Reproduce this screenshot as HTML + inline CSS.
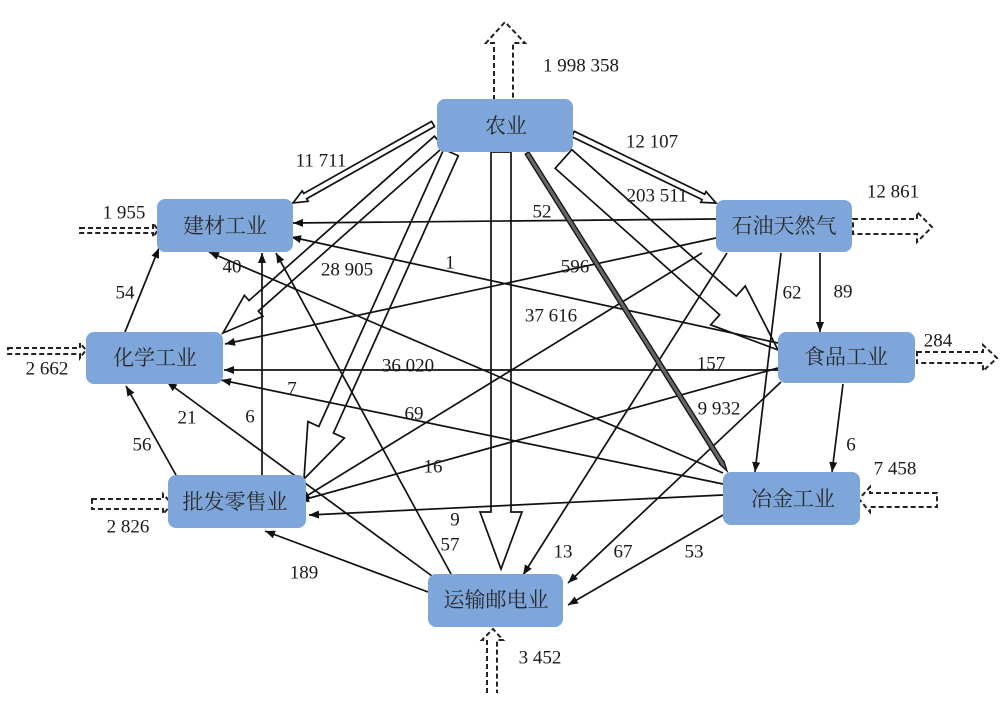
<!DOCTYPE html>
<html><head><meta charset="utf-8"><style>
html,body{margin:0;padding:0;background:#fff;}
svg{display:block;}
.n{font-family:"Liberation Serif","Noto Serif CJK SC",serif;font-size:19px;fill:#1a1a1a;text-anchor:middle;dominant-baseline:central;}
.c{font-family:"Liberation Serif","Noto Serif CJK SC","Noto Sans CJK SC",serif;font-size:21px;fill:#2a2a2a;text-anchor:middle;dominant-baseline:central;}
.l{stroke:#111;stroke-width:1.7;fill:none;marker-end:url(#ah);}
.h{stroke:#111;stroke-width:1.7;fill:none;}
.d{stroke:#222;stroke-width:2;fill:none;stroke-dasharray:5 3;}
.b{fill:#7ea6da;}
</style></head><body>
<svg width="1000" height="715" viewBox="0 0 1000 715" xmlns="http://www.w3.org/2000/svg">
<defs>
<marker id="ah" markerUnits="userSpaceOnUse" markerWidth="11" markerHeight="9" refX="10" refY="4" orient="auto">
<path d="M0,0 L10,4 L0,8 z" fill="#111"/>
</marker>
</defs>
<rect width="1000" height="715" fill="#fff"/>

<!-- dashed external arrows -->
<path class="d" d="M494,100 L494,43 L486,43 L505,22 L525,43 L513,43 L513,100"/>
<path class="d" d="M853,219 L917,219 L917,212 L932,227 L917,242 L917,234 L853,234 Z"/>
<path class="d" d="M917,352 L983,352 L983,345 L997,358 L983,371 L983,363 L917,363 Z"/>
<path class="d" d="M937,493 L870,493 L870,487 L859,499 L870,512 L870,507 L937,507 Z"/>
<path class="d" d="M487,693 L487,640 L482,640 L493,629 L503,640 L497,640 L497,693"/>
<path class="d" d="M92,499 L163,499 L163,494 L172,504 L163,514 L163,509 L92,509 Z"/>
<path class="d" d="M8,348 L80,348 L80,343 L86,350 L80,358 L80,354 L8,354 Z"/>
<path class="d" d="M80,228 L153,228 L153,223 L158,230 L153,237 L153,233 L80,233 Z"/>

<!-- thin arrows -->
<line class="l" x1="716" y1="219" x2="293" y2="223"/>
<line class="l" x1="716" y1="238" x2="225" y2="344"/>
<line class="l" x1="702" y1="253" x2="300" y2="500"/>
<line class="l" x1="727" y1="253" x2="523" y2="575"/>
<line class="l" x1="781" y1="253" x2="755" y2="472"/>
<line class="l" x1="820" y1="253" x2="820" y2="332"/>
<line class="l" x1="778" y1="343" x2="291" y2="237"/>
<line class="l" x1="778" y1="370" x2="224" y2="370"/>
<line class="l" x1="778" y1="368" x2="299" y2="501"/>
<line class="l" x1="781" y1="382" x2="568" y2="583"/>
<line class="l" x1="843" y1="384" x2="832" y2="472"/>
<line class="l" x1="723" y1="473" x2="209" y2="252"/>
<line class="l" x1="723" y1="484" x2="221" y2="380"/>
<line class="l" x1="723" y1="495" x2="309" y2="515"/>
<line class="l" x1="723" y1="515" x2="568" y2="605"/>
<line class="l" x1="125" y1="332" x2="159" y2="248"/>
<line class="l" x1="176" y1="475" x2="126" y2="386"/>
<line class="l" x1="262" y1="475" x2="262" y2="253"/>
<line class="l" x1="432" y1="576" x2="167" y2="382"/>
<line class="l" x1="451" y1="574" x2="276" y2="253"/>
<line class="l" x1="428" y1="592" x2="265" y2="531"/>

<!-- hollow arrows -->
<polygon class="h" transform="translate(433,124) rotate(150.57)" points="0,-3 146.75,-3 146.75,-6 160.75,0 146.75,6 146.75,3 0,3"/>
<polygon class="h" transform="translate(573,134) rotate(25.76)" points="0,-3 144.8,-3 144.8,-6 158.8,0 144.8,6 144.8,3 0,3"/>
<polygon class="h" transform="translate(563.5,159) rotate(41.68)" points="0,-12.5 220.2,-12.5 220.2,-26 287.2,0 220.2,26 220.2,12.5 0,12.5"/>
<polygon class="h" transform="translate(439,141.5) rotate(138.44)" points="0,-7 247.7,-7 247.7,-14 288.7,0 247.7,14 247.7,7 0,7"/>
<polygon class="h" transform="translate(451,152.5) rotate(114.24)" points="0,-8 304.1,-8 304.1,-20 358.1,0 304.1,20 304.1,8 0,8"/>
<polygon class="h" transform="translate(501,152) rotate(90)" points="0,-10 360,-10 360,-21 417,0 360,21 360,10 0,10"/>
<polygon transform="translate(527,153) rotate(57.83)" points="0,-2.2 365.7,-2.2 365.7,-2.7 375.7,0 365.7,2.7 365.7,2.2 0,2.2" fill="#666" stroke="#111" stroke-width="1.3"/>

<!-- nodes -->
<rect class="b" x="437" y="99" width="136" height="53" rx="8"/>
<rect class="b" x="716" y="200" width="136" height="52" rx="8"/>
<rect class="b" x="778" y="332" width="137" height="51" rx="8"/>
<rect class="b" x="723" y="472" width="137" height="53" rx="8"/>
<rect class="b" x="428" y="574" width="135" height="53" rx="8"/>
<rect class="b" x="168" y="475" width="138" height="53" rx="8"/>
<rect class="b" x="86" y="332" width="137" height="52" rx="8"/>
<rect class="b" x="157" y="199" width="136" height="53" rx="8"/>

<text class="c" x="506" y="126">农业</text>
<text class="c" x="784" y="226">石油天然气</text>
<text class="c" x="846" y="357">食品工业</text>
<text class="c" x="793" y="499">冶金工业</text>
<text class="c" x="496" y="600">运输邮电业</text>
<text class="c" x="235" y="502">批发零售业</text>
<text class="c" x="155" y="358">化学工业</text>
<text class="c" x="225" y="226">建材工业</text>

<!-- labels -->
<text class="n" x="581" y="66">1 998 358</text>
<text class="n" x="893" y="192">12 861</text>
<text class="n" x="938" y="341">284</text>
<text class="n" x="895" y="469">7 458</text>
<text class="n" x="540" y="658">3 452</text>
<text class="n" x="128" y="527">2 826</text>
<text class="n" x="47" y="369">2 662</text>
<text class="n" x="124" y="213">1 955</text>
<text class="n" x="321" y="161">11 711</text>
<text class="n" x="652" y="142">12 107</text>
<text class="n" x="657" y="196">203 511</text>
<text class="n" x="542" y="212">52</text>
<text class="n" x="575" y="267">596</text>
<text class="n" x="450" y="263">1</text>
<text class="n" x="347" y="270">28 905</text>
<text class="n" x="232" y="267">40</text>
<text class="n" x="125" y="293">54</text>
<text class="n" x="792" y="293">62</text>
<text class="n" x="843" y="292">89</text>
<text class="n" x="551" y="316">37 616</text>
<text class="n" x="408" y="366">36 020</text>
<text class="n" x="711" y="364">157</text>
<text class="n" x="292" y="389">7</text>
<text class="n" x="719" y="409">9 932</text>
<text class="n" x="414" y="414">69</text>
<text class="n" x="250" y="417">6</text>
<text class="n" x="187" y="418">21</text>
<text class="n" x="142" y="445">56</text>
<text class="n" x="851" y="445">6</text>
<text class="n" x="433" y="467">16</text>
<text class="n" x="455" y="520">9</text>
<text class="n" x="450" y="545">57</text>
<text class="n" x="563" y="552">13</text>
<text class="n" x="623" y="552">67</text>
<text class="n" x="694" y="552">53</text>
<text class="n" x="304" y="573">189</text>
</svg>
</body></html>
